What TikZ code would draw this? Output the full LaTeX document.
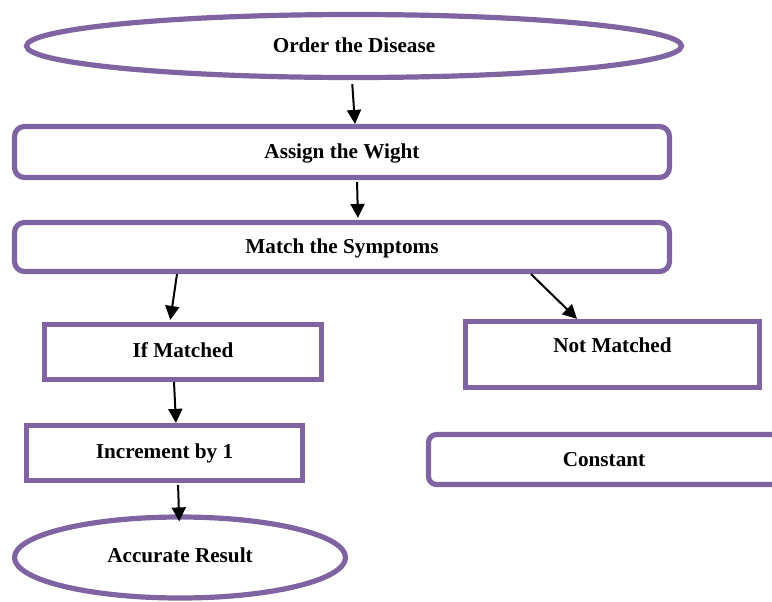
\documentclass[tikz,border=0pt]{standalone}
\usepackage{fontspec}
\setmainfont{Liberation Serif}
\usetikzlibrary{shapes.geometric,arrows.meta}
\definecolor{boxpurple}{RGB}{128,100,162}
\tikzset{
    stage/.style={draw=boxpurple,line width=2.6pt,font=\fontsize{10.6}{12}\selectfont\bfseries,
        text height=7pt,text depth=0.5pt,inner sep=0pt},
    oval/.style={stage,ellipse},
    roundbox/.style={stage,rectangle,rounded corners=5pt},
    plainbox/.style={stage,rectangle},
    arr/.style={-{Triangle[length=7pt,width=7pt]},line width=1pt,black}
}
\begin{document}
\begin{tikzpicture}[x=0.5pt,y=-0.5pt]
            \clip (0,0) rectangle (772,601);
            % Top
            \node [oval,minimum width=327.5pt,minimum height=31.5pt] (order) at(354,46) {Order the Disease};
            \node [roundbox,minimum width=327.5pt,minimum height=25.5pt] (assign) at(342,152) {Assign the Wight};
            \node [roundbox,minimum width=327.5pt,minimum height=24.5pt] (match) at(342,247) {Match the Symptoms};

            % Left branch
            \node [plainbox,minimum width=138.5pt,minimum height=27.5pt,text depth=2pt] (ifm) at(183,352) {If Matched};
            \node [plainbox,minimum width=138pt,minimum height=27.5pt,text depth=2pt] (inc) at(164.5,453) {Increment by 1};
            \node [oval,minimum width=165.5pt,minimum height=40.5pt,text depth=2pt] (result) at(180,557.5) {Accurate Result};

            % Right branch
            \node [plainbox,minimum width=147pt,minimum height=33pt,text height=7.5pt,text depth=10pt] (notm) at(612.5,354.5) {Not Matched};
            \node [roundbox,rounded corners=4pt,minimum width=175.5pt,minimum height=25pt] (const) at(604,459.5) {Constant};

            % Arrows
            \draw [arr,shorten <=2pt] (352,0 |- order.south) -- (355,0 |- assign.north);
            \draw [arr,shorten <=1pt,shorten >=1pt] (357,0 |- assign.south) -- (358,0 |- match.north);
            \draw [arr,shorten >=1pt] (177,0 |- match.south) -- (170,0 |- ifm.north);
            \draw [arr] (531,0 |- match.south) -- (577,0 |- notm.north);
            \draw [arr] (174,0 |- ifm.south) -- (176,0 |- inc.north);
            \draw [arr,shorten <=1pt,shorten >=-3.5pt] (178,0 |- inc.south) -- (179,0 |- result.north);
        \end{tikzpicture}
\end{document}
